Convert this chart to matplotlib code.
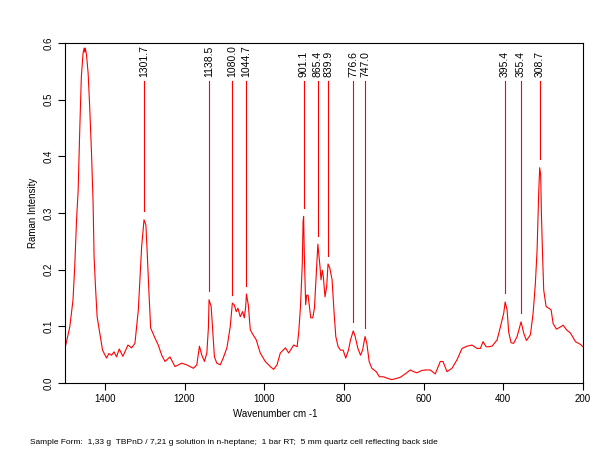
import matplotlib
matplotlib.use('Agg')
import matplotlib.pyplot as plt

plt.rcParams['font.family'] = ['Liberation Sans', 'DejaVu Sans']

# spectrum (wavenumber, intensity)
wavenumber = [1500, 1496.5, 1488, 1480, 1475.6, 1471, 1467, 1463, 1459, 1454.7, 1452, 1450.4, 1449, 1446,
              1442, 1438, 1433.5, 1429.5, 1427, 1423.5, 1419.4, 1412.6, 1405.8, 1395.8, 1390, 1383, 1377,
              1370.6, 1364, 1354.7, 1342, 1333, 1324.5, 1316, 1312, 1307.7, 1301.7, 1297, 1293.6, 1289.3,
              1285, 1274, 1266, 1257.3, 1249, 1236.6, 1224, 1207, 1194.4, 1177.8, 1169.2, 1162.6, 1156.6,
              1150, 1144, 1140, 1138.5, 1133.2, 1129, 1125, 1119, 1110.5, 1103, 1093.7, 1085.4, 1080,
              1075.3, 1070.3, 1066, 1060.2, 1054.4, 1050, 1046.5, 1044.7, 1040, 1035, 1028, 1020, 1010,
              997.4, 984.8, 976.3, 968, 959.6, 947, 938.6, 926, 917.4, 913.4, 909, 904.5, 902.5, 901.1,
              899.5, 896, 893.5, 890, 886, 883.2, 878.2, 874, 869.6, 865.4, 860, 857.5, 854.3, 851.7,
              847.5, 843.3, 839.9, 835.5, 829.7, 824.7, 820.4, 814.6, 808.6, 802, 795.4, 788.6, 783.5,
              776.6, 771.8, 765, 758.2, 753.2, 747.0, 742.5, 736.7, 730, 719, 710.9, 700.8, 690, 679.7,
              668, 658.8, 646.2, 633.6, 625, 616.8, 605, 596, 583.3, 570.8, 558.2, 551.4, 541.4, 528.8,
              516.2, 503.6, 491, 478.5, 465.9, 457.6, 450.8, 443.3, 436, 428.2, 415.6, 407.3, 399, 395.4,
              390.5, 386.5, 380.5, 374, 365.4, 358.9, 355.4, 348.8, 342, 332, 325.2, 319.5, 315.2, 311.2,
              308.7, 306.2, 304.4, 301.9, 298.6, 292.6, 286, 280, 275, 266.6, 256.6, 249.8, 241.5, 231.4,
              218.9, 206.3, 200]
intensity = [0.062, 0.072, 0.099, 0.146, 0.205, 0.288, 0.34, 0.446, 0.54, 0.582, 0.591, 0.584, 0.591, 0.579,
             0.547, 0.487, 0.406, 0.318, 0.222, 0.17, 0.117, 0.088, 0.058, 0.044, 0.052, 0.049, 0.055,
             0.046, 0.06, 0.047, 0.067, 0.062, 0.07, 0.129, 0.182, 0.24, 0.288, 0.279, 0.229, 0.159,
             0.097, 0.079, 0.067, 0.049, 0.038, 0.046, 0.029, 0.035, 0.032, 0.026, 0.032, 0.065, 0.049,
             0.038, 0.053, 0.099, 0.147, 0.135, 0.088, 0.046, 0.035, 0.032, 0.044, 0.062, 0.099, 0.141,
             0.138, 0.126, 0.132, 0.117, 0.126, 0.115, 0.135, 0.157, 0.138, 0.094, 0.085, 0.076, 0.053,
             0.038, 0.029, 0.024, 0.032, 0.053, 0.062, 0.053, 0.067, 0.064, 0.09, 0.135, 0.21, 0.285, 0.294,
             0.23, 0.138, 0.155, 0.155, 0.132, 0.115, 0.115, 0.132, 0.188, 0.245, 0.205, 0.182, 0.199, 0.188,
             0.152, 0.17, 0.21, 0.203, 0.182, 0.124, 0.082, 0.064, 0.058, 0.058, 0.044, 0.058, 0.076,
             0.092, 0.082, 0.061, 0.049, 0.058, 0.082, 0.07, 0.038, 0.026, 0.02, 0.011, 0.011, 0.008, 0.006,
             0.008, 0.01, 0.016, 0.023, 0.02, 0.018, 0.022, 0.023, 0.023, 0.016, 0.038, 0.038, 0.02, 0.026,
             0.041, 0.061, 0.065, 0.067, 0.061, 0.061, 0.073, 0.064, 0.064, 0.065, 0.076, 0.099, 0.123, 0.143,
             0.129, 0.09, 0.071, 0.07, 0.082, 0.099, 0.108, 0.088, 0.075, 0.085, 0.123, 0.176, 0.235, 0.335,
             0.38, 0.367, 0.3, 0.235, 0.164, 0.135, 0.132, 0.129, 0.105, 0.095, 0.099, 0.102, 0.094, 0.088,
             0.073, 0.068, 0.064]

peak_pos = [1301.7, 1138.5, 1080.0, 1044.7, 901.1, 865.4, 839.9, 776.6, 747.0, 395.4, 355.4, 308.7]
peak_height = [0.288, 0.147, 0.141, 0.157, 0.294, 0.245, 0.21, 0.092, 0.082, 0.143, 0.108, 0.38]

fig = plt.figure(figsize=(6.12, 4.72), dpi=100)
ax = fig.add_axes([65 / 612, 1 - 383 / 472, 518 / 612, 340 / 472])

ax.plot(wavenumber, intensity, color='red', linewidth=0.8)

# peak markers
for pos, h in zip(peak_pos, peak_height):
    ax.plot([pos, pos], [h + 0.015, 0.533], color='red', linewidth=0.8)
    ax.text(pos, 0.54, '%.1f' % pos, rotation=90, ha='center', va='bottom', fontsize=7.5)

ax.set_xlim(1500, 200)
ax.set_ylim(0, 0.6)
ax.set_xticks([1400, 1200, 1000, 800, 600, 400, 200])
ax.set_yticks([0.0, 0.1, 0.2, 0.3, 0.4, 0.5, 0.6])
ax.set_yticklabels(['0.0', '0.1', '0.2', '0.3', '0.4', '0.5', '0.6'], rotation=90, va='center')
ax.tick_params(direction='out', length=5, width=0.8, labelsize=7, pad=3)
for s in ax.spines.values():
    s.set_linewidth(0.8)

fig.text(33 / 612, 1 - 213 / 472, 'Raman Intensity', rotation=90, ha='center', va='center', fontsize=7)
fig.text(275 / 612, 1 - 414 / 472, 'Wavenumber cm -1', ha='center', va='center', fontsize=7)
fig.text(30 / 612, 1 - 442 / 472,
         'Sample Form:  1,33 g  TBPnD / 7,21 g solution in n-heptane;  1 bar RT;  5 mm quartz cell reflecting back side',
         ha='left', va='center', fontsize=6)

fig.savefig('out.png', dpi=100)
